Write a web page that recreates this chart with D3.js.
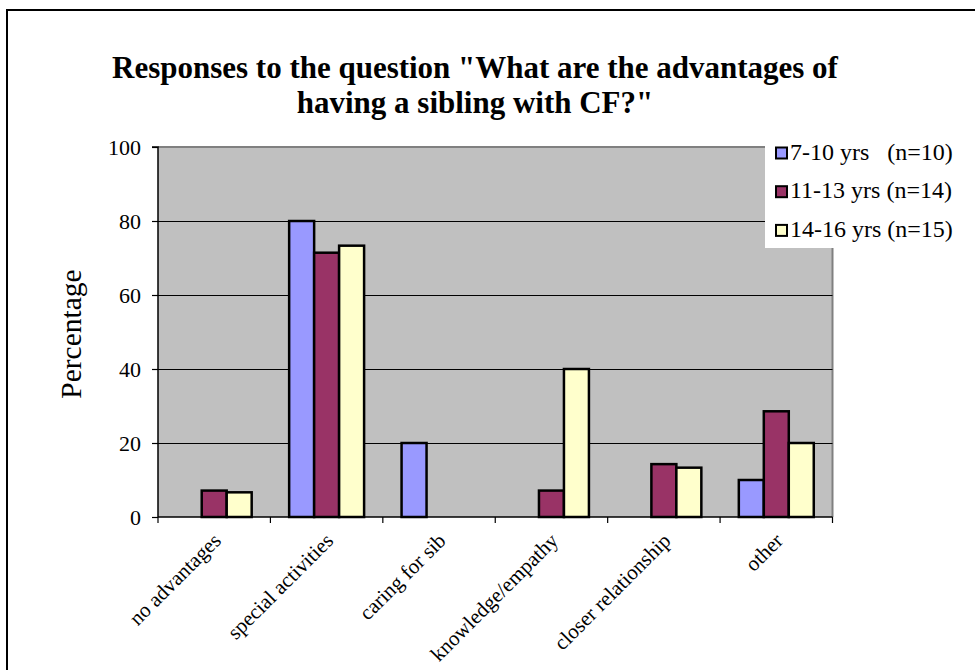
<!DOCTYPE html>
<html>
<head>
<meta charset="utf-8">
<script src="https://cdn.jsdelivr.net/npm/d3@7"></script>
<style>
  html, body { margin: 0; padding: 0; background: #fff; }
  svg { display: block; }
  text { font-family: "Liberation Serif", "Times New Roman", serif; }
</style>
</head>
<body>
<script>
const categories = ["no advantages", "special activities", "caring for sib", "knowledge/empathy", "closer relationship", "other"];
const seriesNames = ["7-10 yrs\u00a0\u00a0\u00a0(n=10)", "11-13 yrs (n=14)", "14-16 yrs (n=15)"];
const series7to10 = [0, 80, 20, 0, 0, 10];
const series11to13 = [7.14, 71.43, 0, 7.14, 14.29, 28.57];
const series14to16 = [6.67, 73.33, 0, 40, 13.33, 20];
const yTicks = [0, 20, 40, 60, 80, 100];
const colors = ["#9999FF", "#993366", "#FFFFCC"];
const titleLines = ["Responses to the question \"What are the advantages of", "having a sibling with CF?\""];
const yLabel = "Percentage";

const W = 975, H = 670;
const plot = { left: 158, right: 832.5, top: 147, bottom: 517 };

const svg = d3.select("body").append("svg").attr("width", W).attr("height", H);

// outer frame
svg.append("rect").attr("x", 7).attr("y", 10).attr("width", 1000).attr("height", 700)
  .attr("fill", "#fff").attr("stroke", "#000").attr("stroke-width", 2);

const x0 = d3.scaleBand().domain(categories).range([plot.left, plot.right]).paddingInner(0).paddingOuter(0);
const groupPad = x0.bandwidth() / 6; // gap width 150%
const x1 = d3.scaleBand().domain(d3.range(3)).range([groupPad, x0.bandwidth() - groupPad]).padding(0);
const y = d3.scaleLinear().domain([0, 100]).range([plot.bottom, plot.top]);

// plot area background
svg.append("rect").attr("x", plot.left).attr("y", plot.top)
  .attr("width", plot.right - plot.left).attr("height", plot.bottom - plot.top)
  .attr("fill", "#C0C0C0");
svg.append("path")
  .attr("d", `M${plot.left},${plot.top}H${plot.right}V${plot.bottom}`)
  .attr("fill", "none").attr("stroke", "#808080").attr("stroke-width", 2);

// gridlines
svg.append("g").selectAll("line").data(yTicks.filter(t => t > 0 && t < 100)).join("line")
  .attr("x1", plot.left).attr("x2", plot.right)
  .attr("y1", d => Math.round(y(d)) + 0.5).attr("y2", d => Math.round(y(d)) + 0.5)
  .attr("stroke", "#000").attr("stroke-width", 1);

// bars
const seriesData = [series7to10, series11to13, series14to16];
const barG = svg.append("g");
categories.forEach((c, ci) => {
  seriesData.forEach((s, si) => {
    if (s[ci] > 0) {
      barG.append("rect")
        .attr("x", x0(c) + x1(si))
        .attr("y", y(s[ci]))
        .attr("width", x1.bandwidth())
        .attr("height", y(0) - y(s[ci]))
        .attr("fill", colors[si])
        .attr("stroke", "#000")
        .attr("stroke-width", 2.5);
    }
  });
});

// y axis
const yAxis = d3.axisLeft(y).tickValues(yTicks).tickSize(6).tickPadding(11);
const gy = svg.append("g").attr("transform", `translate(${plot.left},0)`).call(yAxis);
gy.select(".domain").attr("stroke", "#000").attr("stroke-width", 1.5).attr("d", `M-6,${plot.top}H0V${plot.bottom}`);
gy.selectAll(".tick line").attr("stroke", "#000").attr("stroke-width", 1.2);
gy.selectAll(".tick text").attr("font-size", 22).attr("fill", "#000")
  .style("font-family", '"Liberation Serif", "Times New Roman", serif');

// x axis
const gx = svg.append("g").attr("transform", `translate(0,${plot.bottom})`);
gx.append("line").attr("x1", plot.left).attr("x2", plot.right).attr("y1", 0).attr("y2", 0)
  .attr("stroke", "#000").attr("stroke-width", 1.5);
const boundaries = categories.map(c => x0(c)).concat([plot.right]);
gx.selectAll("line.tk").data(boundaries).join("line").attr("class", "tk")
  .attr("x1", d => d).attr("x2", d => d).attr("y1", 0).attr("y2", 6)
  .attr("stroke", "#000").attr("stroke-width", 1.2);
gx.selectAll("text.cat").data(categories).join("text").attr("class", "cat")
  .attr("transform", d => `translate(${x0(d) + x0.bandwidth() / 2 + 8},${25}) rotate(-45)`)
  .attr("text-anchor", "end")
  .attr("font-size", 21)
  .attr("fill", "#000")
  .text(d => d);

// y label
svg.append("text")
  .attr("transform", `translate(81,334) rotate(-90)`)
  .attr("text-anchor", "middle")
  .attr("font-size", 29.5)
  .text(yLabel);

// title
const tt = svg.append("g").selectAll("text").data(titleLines).join("text")
  .attr("x", 475).attr("y", (d, i) => 78 + i * 35)
  .attr("text-anchor", "middle")
  .attr("font-size", 28).attr("font-weight", "bold")
  .attr("fill", "#000")
  .text(d => d);
const len0 = tt.node().getComputedTextLength();
tt.attr("font-size", Math.min(32, 28 * 726 / len0));

// legend
const lg = svg.append("g");
lg.append("rect").attr("x", 765).attr("y", 136).attr("width", 200).attr("height", 112).attr("fill", "#fff");
seriesNames.forEach((n, i) => {
  lg.append("rect").attr("x", 776).attr("y", 147.5 + i * 38.7).attr("width", 11).attr("height", 11)
    .attr("fill", colors[i]).attr("stroke", "#000").attr("stroke-width", 2);
  lg.append("text").attr("x", 790).attr("y", 159.5 + i * 38.7)
    .attr("font-size", 24).attr("fill", "#000").text(n);
});
</script>
</body>
</html>
